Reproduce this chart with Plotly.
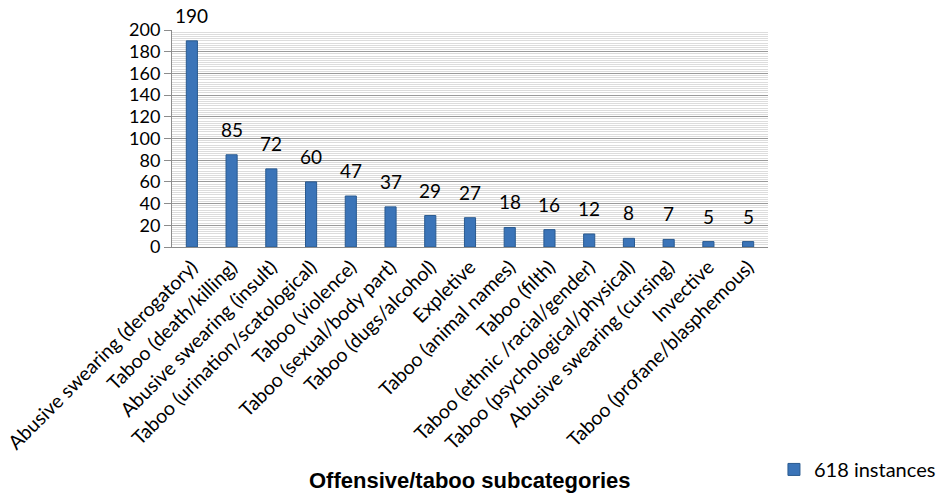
import plotly.graph_objects as go

categories = [
    "Abusive swearing (derogatory)",
    "Taboo (death/killing)",
    "Abusive swearing (insult)",
    "Taboo (urination/scatological)",
    "Taboo (violence)",
    "Taboo (sexual/body part)",
    "Taboo (dugs/alcohol)",
    "Expletive",
    "Taboo (animal names)",
    "Taboo (filth)",
    "Taboo (ethnic /racial/gender)",
    "Taboo (psychological/physical)",
    "Abusive swearing (cursing)",
    "Invective",
    "Taboo (profane/blasphemous)",
]
values = [190, 85, 72, 60, 47, 37, 29, 27, 18, 16, 12, 8, 7, 5, 5]
series_name = "618 instances"
x_title = "Offensive/taboo subcategories"
y_ticks = list(range(0, 201, 20))

FONT = "Lato"

fig = go.Figure()
fig.add_trace(go.Bar(
    x=categories,
    y=values,
    name=series_name,
    width=0.28,
    marker=dict(color="#3b74b8", line=dict(color="#2a5a8f", width=1)),
))

annotations = [
    dict(x=c, y=v, xref="x", yref="y", text=str(v), showarrow=False,
         xanchor="center", yanchor="bottom", yshift=12,
         font=dict(family=FONT, size=19, color="#000000"))
    for c, v in zip(categories, values)
]
annotations.append(dict(
    text="<b>" + x_title + "</b>",
    x=0.5, y=-1.078, xref="paper", yref="paper",
    xanchor="center", yanchor="middle", showarrow=False,
    font=dict(family="Liberation Sans", size=22, color="#000000"),
))

fig.update_layout(
    width=938, height=493,
    margin=dict(l=172, r=170, t=30, b=246, autoexpand=False),
    paper_bgcolor="white",
    plot_bgcolor="white",
    font=dict(family=FONT, color="#000000"),
    bargap=0.72,
    showlegend=True,
    legend=dict(
        x=1.01, y=-1.025, xanchor="left", yanchor="middle",
        font=dict(family=FONT, size=20, color="#000000"),
        bgcolor="rgba(0,0,0,0)",
    ),
    annotations=annotations,
)

fig.update_yaxes(
    range=[0, 200],
    tickvals=y_ticks,
    automargin=False,
    ticks="outside", ticklen=7, tickcolor="#8c8c8c",
    tickfont=dict(family=FONT, size=18, color="#000000"),
    showgrid=True, gridcolor="#9a9a9a", gridwidth=1,
    minor=dict(dtick=2, showgrid=True, gridcolor="#dcdcdc", gridwidth=1),
    showline=True, linecolor="#8c8c8c", linewidth=1,
    zeroline=False,
)
fig.update_xaxes(
    tickangle=-45,
    automargin=False,
    tickfont=dict(family=FONT, size=19.5, color="#000000"),
    showline=True, linecolor="#8c8c8c", linewidth=1,
    ticks="",
    showgrid=False,
    mirror=False,
)

fig.write_html("out.html")
